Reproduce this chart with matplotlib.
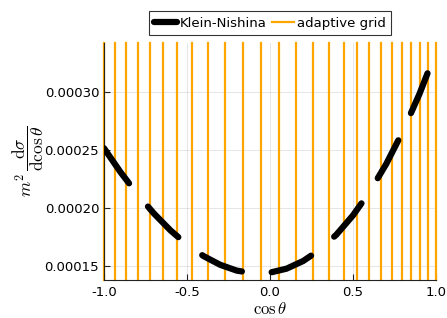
import matplotlib
matplotlib.use("Agg")
import matplotlib.pyplot as plt
from matplotlib.ticker import FixedLocator, FormatStrFormatter

# Klein-Nishina curve values
cos_theta = [-1.0, -0.9, -0.8, -0.7, -0.6, -0.5, -0.4, -0.3, -0.2, -0.1, 0.0,
             0.1, 0.2, 0.3, 0.4, 0.5, 0.6, 0.7, 0.8, 0.9, 1.0]
xsec = [2.514e-4, 2.307e-4, 2.120e-4, 1.953e-4, 1.807e-4, 1.684e-4, 1.585e-4,
        1.510e-4, 1.460e-4, 1.437e-4, 1.443e-4, 1.477e-4, 1.543e-4, 1.640e-4,
        1.770e-4, 1.936e-4, 2.138e-4, 2.378e-4, 2.658e-4, 2.980e-4, 3.346e-4]

# adaptive grid positions
grid_pts = [-1.0, -0.932, -0.866, -0.797, -0.721, -0.643, -0.558, -0.468,
            -0.372, -0.271, -0.164, -0.056, 0.052, 0.158, 0.261, 0.357,
            0.444, 0.524, 0.596, 0.669, 0.733, 0.793, 0.849, 0.904, 0.954, 1.0]

xticks = [-1.0, -0.5, 0.0, 0.5, 1.0]
yticks = [0.00015, 0.00020, 0.00025, 0.00030]

plt.rcParams['mathtext.fontset'] = 'cm'
plt.rcParams['font.family'] = ['DejaVu Sans']

W, H = 447, 318
fig = plt.figure(figsize=(W / 100, H / 100), dpi=100)
ax = fig.add_axes([104 / W, 1 - 279.5 / H, 332 / W, 236.5 / H])

orange = '#FFA500'
for i, g in enumerate(grid_pts):
    ax.axvline(g, color=orange, lw=1.6, clip_on=False, zorder=2,
               label='adaptive grid' if i == 0 else None)

lw = 4.5
ax.plot(cos_theta, xsec, color='black', lw=lw, solid_capstyle='round',
        dash_capstyle='round', linestyle=(0, (6.9, 4.8)), zorder=3,
        label='Klein-Nishina')

ax.set_xlim(-1, 1)
ax.set_ylim(0.00013836, 0.00034198)
ax.xaxis.set_major_locator(FixedLocator(xticks))
ax.yaxis.set_major_locator(FixedLocator(yticks))
ax.xaxis.set_major_formatter(FormatStrFormatter('%.1f'))
ax.yaxis.set_major_formatter(FormatStrFormatter('%.5f'))
ax.tick_params(direction='in', length=4, width=0.8, labelsize=9.5, color='#222222')
ax.tick_params(axis='x', pad=4.5)
ax.tick_params(axis='y', pad=3.5)
ax.grid(True, color='black', alpha=0.1, lw=0.7, zorder=0)
ax.set_axisbelow(True)
for s in ['top', 'right']:
    ax.spines[s].set_visible(False)
for s in ['left', 'bottom']:
    ax.spines[s].set_color('#222222')
    ax.spines[s].set_linewidth(0.8)

ax.set_xlabel(r'$\cos\theta$', fontsize=12)
ax.xaxis.set_label_coords(0.5, -0.125)
ax.xaxis.label.set_va('center')
ax.set_ylabel(r'$m^2\,\dfrac{\mathrm{d}\sigma}{\mathrm{d}\cos\theta}$', fontsize=12.5)
ax.yaxis.set_label_coords(-0.229, 0.5)
ax.yaxis.label.set_va('center')

handles, labels = ax.get_legend_handles_labels()
order = [labels.index('Klein-Nishina'), labels.index('adaptive grid')]
leg = ax.legend([handles[i] for i in order], [labels[i] for i in order],
                loc='lower center', bbox_to_anchor=(0.5, 1.034), ncol=2,
                fontsize=9.5, frameon=True, fancybox=False, edgecolor='black',
                borderaxespad=0, handlelength=1.7, handletextpad=0.2,
                columnspacing=0.4, borderpad=0.4)
leg.get_frame().set_linewidth(0.8)

fig.savefig('out.png', dpi=100)
